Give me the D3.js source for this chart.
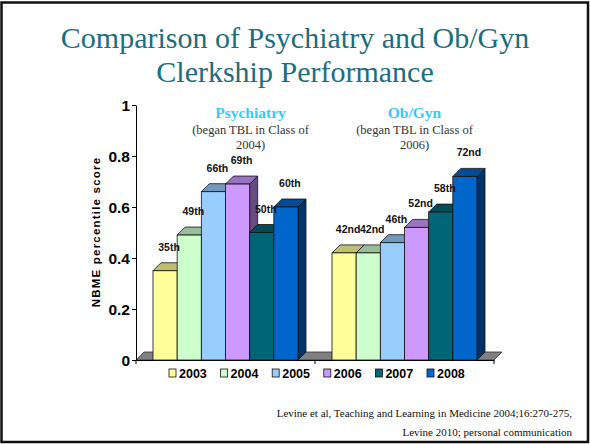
<!DOCTYPE html>
<html>
<head>
<meta charset="utf-8">
<script src="https://cdn.jsdelivr.net/npm/d3@7/dist/d3.min.js"></script>
<style>
  html, body { margin: 0; padding: 0; background: #fff; }
  svg { display: block; }
</style>
</head>
<body>
<svg id="chart" width="590" height="444"></svg>
<script>
// ---- data ----
const categories = ["Psychiatry", "Ob/Gyn"];
const years = ["2003", "2004", "2005", "2006", "2007", "2008"];
const psychiatry = [0.35, 0.49, 0.66, 0.69, 0.50, 0.60];
const obgyn = [0.42, 0.42, 0.46, 0.52, 0.58, 0.72];
const psychiatryLabels = ["35th", "49th", "66th", "69th", "50th", "60th"];
const obgynLabels = ["42nd", "42nd", "46th", "52nd", "58th", "72nd"];
const yTickValues = [0, 0.2, 0.4, 0.6, 0.8, 1];
const yTickLabels = ["0", "0.2", "0.4", "0.6", "0.8", "1"];
const groupNotes = ["(began TBL in Class of|2004)", "(began TBL in Class of|2006)"];

// ---- styles ----
const frontColors = ["#FFFF99", "#CCFFCC", "#99CCFF", "#CC99FF", "#006677", "#0066CC"];
const topColors   = ["#BFBF73", "#99BF99", "#7399BF", "#9973BF", "#004D59", "#004C99"];
const sideColors  = ["#80804C", "#668066", "#4C6680", "#664C80", "#003340", "#003366"];

const svg = d3.select("#chart");
const W = 590, H = 444;
const serif = "'Liberation Serif', 'Times New Roman', serif";
const sans = "'Liberation Sans', Arial, sans-serif";

// frame
svg.append("rect").attr("x", 1.5).attr("y", 2.5).attr("width", W - 3.5).attr("height", H - 4.5)
  .attr("fill", "#fff").attr("stroke", "#111").attr("stroke-width", 2.5);

// title
const title = svg.append("text").attr("text-anchor", "middle")
  .attr("font-family", serif).attr("font-size", 30).attr("fill", "#1B6E7F");
title.append("tspan").attr("x", 295).attr("y", 48).text("Comparison of Psychiatry and Ob/Gyn");
title.append("tspan").attr("x", 295).attr("y", 82).text("Clerkship Performance");

// scales
const x0 = d3.scaleBand().domain(categories).range([136, 494]).paddingInner(0).paddingOuter(0);
const x1 = d3.scaleBand().domain(years).range([17, x0.bandwidth() - 17]).padding(0);
const y = d3.scaleLinear().domain([0, 1]).range([360, 105]);
const dx = 8, dy = -8;

// floor
const fx0 = x0.range()[0], fx1 = x0.range()[1], fy = y(0);
svg.append("path")
  .attr("d", `M${fx0},${fy}L${fx1},${fy}L${fx1 + dx},${fy + dy}L${fx0 + dx},${fy + dy}Z`)
  .attr("fill", "#808080").attr("stroke", "#333").attr("stroke-width", 0.8);

// y axis
const yAxis = d3.axisLeft(y).tickValues(yTickValues)
  .tickFormat((d, i) => yTickLabels[i]).tickSize(4).tickSizeOuter(0);
const yg = svg.append("g").attr("transform", `translate(${fx0},0)`).call(yAxis);
yg.select(".domain").attr("stroke", "#000").attr("stroke-width", 1);
yg.selectAll(".tick line").attr("stroke", "#000");
yg.selectAll(".tick text").attr("font-family", sans)
  .attr("font-weight", "bold").attr("font-size", 15.5).attr("fill", "#000").attr("x", -6).attr("dy", "0.34em");

// x axis
const xAxis = d3.axisBottom(x0).tickValues([]).tickSizeOuter(0);
const xg = svg.append("g").attr("transform", `translate(0,${fy})`).call(xAxis);
xg.select(".domain").attr("stroke", "#000");
const boundaries = [fx0, x0(categories[1]), fx1];
xg.selectAll("line.b").data(boundaries).join("line").attr("class", "b")
  .attr("x1", d => d).attr("x2", d => d).attr("y1", 0).attr("y2", 4).attr("stroke", "#000");

// y axis title
svg.append("text")
  .attr("transform", `translate(100,232) rotate(-90)`)
  .attr("text-anchor", "middle")
  .attr("font-family", sans)
  .attr("font-weight", "bold").attr("font-size", 11.5).attr("letter-spacing", 1.2)
  .attr("fill", "#000").text("NBME percentile score");

// bars
const series = [
  { cat: categories[0], values: psychiatry, labels: psychiatryLabels },
  { cat: categories[1], values: obgyn, labels: obgynLabels }
];
series.forEach(s => {
  const g = svg.append("g").attr("transform", `translate(${x0(s.cat)},0)`);
  s.values.forEach((v, i) => {
    const xl = x1(years[i]), w = x1.bandwidth(), yt = y(v), yb = y(0);
    const bar = g.append("g");
    bar.append("path")
      .attr("d", `M${xl + w},${yb}L${xl + w},${yt}L${xl + w + dx},${yt + dy}L${xl + w + dx},${yb + dy}Z`)
      .attr("fill", sideColors[i]).attr("stroke", "#111").attr("stroke-width", 0.8).attr("stroke-linejoin", "round");
    bar.append("path")
      .attr("d", `M${xl},${yt}L${xl + dx},${yt + dy}L${xl + w + dx},${yt + dy}L${xl + w},${yt}Z`)
      .attr("fill", topColors[i]).attr("stroke", "#111").attr("stroke-width", 0.8).attr("stroke-linejoin", "round");
    bar.append("rect").attr("x", xl).attr("y", yt).attr("width", w).attr("height", yb - yt)
      .attr("fill", frontColors[i]).attr("stroke", "#111").attr("stroke-width", 0.8);
  });
  s.values.forEach((v, i) => {
    g.append("text")
      .attr("x", x1(years[i]) + x1.bandwidth() / 2 + 4)
      .attr("y", y(v) - 20)
      .attr("text-anchor", "middle")
      .attr("font-family", sans)
      .attr("font-weight", "bold").attr("font-size", 10.5).attr("fill", "#111")
      .text(s.labels[i]);
  });
});

// group headings
categories.forEach((c, i) => {
  const cx = x0(c) + x0.bandwidth() / 2 + 25 - i * 15;
  svg.append("text").attr("x", cx).attr("y", 118).attr("text-anchor", "middle")
    .attr("font-family", serif)
    .attr("font-weight", "bold").attr("font-size", 15.5).attr("fill", "#33CCFF").text(c);
  groupNotes[i].split("|").forEach((ln, j) => {
    svg.append("text").attr("x", cx).attr("y", 134 + j * 15).attr("text-anchor", "middle")
      .attr("font-family", serif)
      .attr("font-size", 12.5).attr("fill", "#333").text(ln);
  });
});

// legend
const legend = svg.append("g").attr("transform", "translate(169,373)");
years.forEach((yr, i) => {
  const lg = legend.append("g").attr("transform", `translate(${i * 51.6},0)`);
  lg.append("rect").attr("x", 0).attr("y", -4).attr("width", 7).attr("height", 8)
    .attr("fill", frontColors[i]).attr("stroke", "#111").attr("stroke-width", 0.8);
  lg.append("text").attr("x", 10).attr("y", 4.5)
    .attr("font-family", sans)
    .attr("font-weight", "bold").attr("font-size", 12.5).attr("fill", "#000").text(yr);
});

// citation
const cite = svg.append("text").attr("text-anchor", "end")
  .attr("font-family", serif).attr("font-size", 11).attr("fill", "#111");
cite.append("tspan").attr("x", 572).attr("y", 417).text("Levine et al, Teaching and Learning in Medicine 2004;16:270-275,");
cite.append("tspan").attr("x", 572).attr("y", 436).text("Levine 2010; personal communication");
</script>
</body>
</html>
